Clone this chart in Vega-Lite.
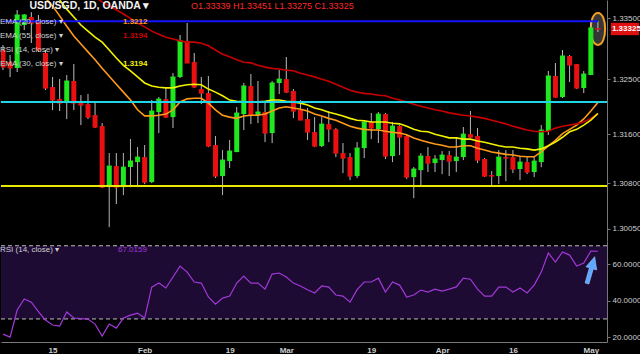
{
  "$schema": "https://vega.github.io/schema/vega-lite/v6.json",
  "background": "#000000",
  "padding": 0,
  "autosize": {"type": "pad"},
  "spacing": 0,
  "config": {
    "view": {"stroke": null},
    "font": "Liberation Sans",
    "axis": {"labelColor": "#cfcfcf", "labelFontSize": 8, "domainColor": "#777777", "tickColor": "#777777", "grid": false},
    "legend": {"symbolType": "circle", "symbolSize": 0, "symbolOpacity": 0, "symbolStrokeWidth": 0, "labelOffset": -9, "labelFontSize": 8, "rowPadding": 6, "padding": 0, "labelLimit": 300}
  },
  "data": {"values": [
    {"date":"2018-01-04","open":1.3298,"high":1.33062,"low":1.32652,"close":1.32701,"rsi":21.7},
    {"date":"2018-01-05","open":1.32783,"high":1.32898,"low":1.32537,"close":1.32685,"rsi":20.1},
    {"date":"2018-01-08","open":1.32685,"high":1.33636,"low":1.32619,"close":1.33554,"rsi":34.9},
    {"date":"2018-01-09","open":1.3339,"high":1.3357,"low":1.33308,"close":1.33554,"rsi":40.9},
    {"date":"2018-01-10","open":1.33521,"high":1.336,"low":1.33095,"close":1.33423,"rsi":39.2},
    {"date":"2018-01-11","open":1.33439,"high":1.33554,"low":1.32947,"close":1.3298,"rsi":34.0},
    {"date":"2018-01-12","open":1.32931,"high":1.3298,"low":1.32324,"close":1.32357,"ema20":1.3383,"rsi":29.4},
    {"date":"2018-01-15","open":1.32373,"high":1.32537,"low":1.31996,"close":1.3216,"ema20":1.337,"rsi":26.7},
    {"date":"2018-01-16","open":1.32176,"high":1.32504,"low":1.3198,"close":1.32111,"ema20":1.3354,"ema30":1.338,"rsi":26.1},
    {"date":"2018-01-17","open":1.32111,"high":1.3257,"low":1.31848,"close":1.32472,"ema20":1.3337,"ema30":1.3365,"rsi":33.8},
    {"date":"2018-01-18","open":1.32472,"high":1.3275,"low":1.31996,"close":1.32111,"ema20":1.3321,"ema30":1.3352,"rsi":30.5},
    {"date":"2018-01-19","open":1.32111,"high":1.32242,"low":1.3175,"close":1.32078,"ema20":1.3308,"ema30":1.3339,"rsi":30.2},
    {"date":"2018-01-22","open":1.32094,"high":1.32258,"low":1.31848,"close":1.31881,"ema20":1.3295,"ema30":1.3329,"rsi":29.9},
    {"date":"2018-01-23","open":1.31914,"high":1.32111,"low":1.31701,"close":1.31717,"ema20":1.3282,"ema30":1.3319,"ema55":1.3385,"rsi":27.2},
    {"date":"2018-01-24","open":1.31734,"high":1.31783,"low":1.30717,"close":1.30733,"ema20":1.3268,"ema30":1.3311,"ema55":1.3377,"rsi":20.7},
    {"date":"2018-01-25","open":1.30733,"high":1.31291,"low":1.30077,"close":1.31078,"ema20":1.3255,"ema30":1.3298,"ema55":1.337,"rsi":27.2},
    {"date":"2018-01-26","open":1.31078,"high":1.31291,"low":1.30456,"close":1.30733,"ema20":1.3242,"ema30":1.3285,"ema55":1.3364,"rsi":25.0},
    {"date":"2018-01-29","open":1.30733,"high":1.31291,"low":1.30602,"close":1.31061,"ema20":1.3229,"ema30":1.3273,"ema55":1.3357,"rsi":30.5},
    {"date":"2018-01-30","open":1.31061,"high":1.3152,"low":1.30733,"close":1.3116,"ema20":1.3216,"ema30":1.3264,"ema55":1.335,"rsi":32.1},
    {"date":"2018-01-31","open":1.31143,"high":1.31389,"low":1.30733,"close":1.31225,"ema20":1.32,"ema30":1.3254,"ema55":1.3342,"rsi":33.2},
    {"date":"2018-02-01","open":1.31225,"high":1.31422,"low":1.30782,"close":1.30815,"ema20":1.319,"ema30":1.3244,"ema55":1.3336,"rsi":30.5},
    {"date":"2018-02-02","open":1.30815,"high":1.3216,"low":1.30799,"close":1.3198,"ema20":1.319,"ema30":1.3239,"ema55":1.3329,"rsi":47.4},
    {"date":"2018-02-05","open":1.31963,"high":1.32209,"low":1.31619,"close":1.32176,"ema20":1.3191,"ema30":1.3237,"ema55":1.3324,"rsi":49.6},
    {"date":"2018-02-06","open":1.32176,"high":1.32373,"low":1.31865,"close":1.31881,"ema20":1.3193,"ema30":1.3236,"ema55":1.3319,"rsi":46.9},
    {"date":"2018-02-07","open":1.31881,"high":1.32603,"low":1.31701,"close":1.32537,"ema20":1.32,"ema30":1.3236,"ema55":1.3316,"rsi":52.9},
    {"date":"2018-02-08","open":1.32537,"high":1.33226,"low":1.32521,"close":1.33128,"ema20":1.3213,"ema30":1.3239,"ema55":1.3313,"rsi":58.9},
    {"date":"2018-02-09","open":1.33128,"high":1.33423,"low":1.32767,"close":1.32767,"ema20":1.3218,"ema30":1.3241,"ema55":1.3311,"rsi":55.6},
    {"date":"2018-02-12","open":1.32783,"high":1.32931,"low":1.32357,"close":1.32373,"ema20":1.3219,"ema30":1.3242,"ema55":1.3311,"rsi":50.2},
    {"date":"2018-02-13","open":1.3234,"high":1.32537,"low":1.32094,"close":1.32275,"ema20":1.3219,"ema30":1.3241,"ema55":1.3309,"rsi":49.6},
    {"date":"2018-02-14","open":1.32275,"high":1.32554,"low":1.31389,"close":1.31406,"ema20":1.3211,"ema30":1.3234,"ema55":1.3305,"rsi":42.0},
    {"date":"2018-02-15","open":1.31422,"high":1.3157,"low":1.30881,"close":1.30914,"ema20":1.32,"ema30":1.3229,"ema55":1.3298,"rsi":38.1},
    {"date":"2018-02-16","open":1.30914,"high":1.3134,"low":1.30602,"close":1.31176,"ema20":1.3191,"ema30":1.3223,"ema55":1.3291,"rsi":41.4},
    {"date":"2018-02-19","open":1.3116,"high":1.31504,"low":1.31045,"close":1.31324,"ema20":1.3188,"ema30":1.3216,"ema55":1.3287,"rsi":42.5},
    {"date":"2018-02-20","open":1.31307,"high":1.32045,"low":1.31307,"close":1.31947,"ema20":1.3186,"ema30":1.3214,"ema55":1.3282,"rsi":49.6},
    {"date":"2018-02-21","open":1.3193,"high":1.32439,"low":1.31668,"close":1.3239,"ema20":1.319,"ema30":1.3213,"ema55":1.3278,"rsi":53.4},
    {"date":"2018-02-22","open":1.3239,"high":1.32586,"low":1.31766,"close":1.31914,"ema20":1.3191,"ema30":1.3213,"ema55":1.3277,"rsi":49.6},
    {"date":"2018-02-23","open":1.31914,"high":1.32472,"low":1.31783,"close":1.31963,"ema20":1.3191,"ema30":1.3213,"ema55":1.3273,"rsi":49.6},
    {"date":"2018-02-26","open":1.31963,"high":1.32127,"low":1.31471,"close":1.31619,"ema20":1.3193,"ema30":1.3214,"ema55":1.327,"rsi":46.3},
    {"date":"2018-02-27","open":1.31619,"high":1.32472,"low":1.31455,"close":1.32439,"ema20":1.3198,"ema30":1.3216,"ema55":1.3268,"rsi":54.5},
    {"date":"2018-02-28","open":1.32439,"high":1.32652,"low":1.32258,"close":1.32504,"ema20":1.3203,"ema30":1.3216,"ema55":1.3267,"rsi":55.1},
    {"date":"2018-03-01","open":1.32504,"high":1.32865,"low":1.32275,"close":1.32291,"ema20":1.3205,"ema30":1.3214,"ema55":1.3265,"rsi":52.9},
    {"date":"2018-03-02","open":1.32308,"high":1.3234,"low":1.31865,"close":1.3198,"ema20":1.3203,"ema30":1.3213,"ema55":1.3264,"rsi":49.6},
    {"date":"2018-03-05","open":1.31996,"high":1.3216,"low":1.31832,"close":1.31832,"ema20":1.3201,"ema30":1.3211,"ema55":1.326,"rsi":48.0},
    {"date":"2018-03-06","open":1.31848,"high":1.32029,"low":1.31504,"close":1.31635,"ema20":1.3198,"ema30":1.3208,"ema55":1.3257,"rsi":46.0},
    {"date":"2018-03-07","open":1.31635,"high":1.31881,"low":1.31389,"close":1.31406,"ema20":1.3193,"ema30":1.3203,"ema55":1.3254,"rsi":44.2},
    {"date":"2018-03-08","open":1.31406,"high":1.31881,"low":1.31389,"close":1.31766,"ema20":1.319,"ema30":1.32,"ema55":1.325,"rsi":48.0},
    {"date":"2018-03-09","open":1.31766,"high":1.3198,"low":1.31471,"close":1.31684,"ema20":1.3186,"ema30":1.3196,"ema55":1.3247,"rsi":47.4},
    {"date":"2018-03-12","open":1.31684,"high":1.317,"low":1.31225,"close":1.31291,"ema20":1.3183,"ema30":1.3193,"ema55":1.3242,"rsi":43.1},
    {"date":"2018-03-13","open":1.31291,"high":1.31455,"low":1.30963,"close":1.31209,"ema20":1.3178,"ema30":1.319,"ema55":1.3237,"rsi":42.5},
    {"date":"2018-03-14","open":1.31225,"high":1.31291,"low":1.30848,"close":1.30914,"ema20":1.3173,"ema30":1.3186,"ema55":1.3232,"rsi":39.2},
    {"date":"2018-03-15","open":1.30914,"high":1.31471,"low":1.30881,"close":1.31373,"ema20":1.317,"ema30":1.3183,"ema55":1.3229,"rsi":46.0},
    {"date":"2018-03-16","open":1.31373,"high":1.31832,"low":1.31209,"close":1.31799,"ema20":1.3168,"ema30":1.3182,"ema55":1.3227,"rsi":50.2},
    {"date":"2018-03-19","open":1.31799,"high":1.31947,"low":1.3152,"close":1.31701,"ema20":1.3167,"ema30":1.318,"ema55":1.3226,"rsi":50.2},
    {"date":"2018-03-20","open":1.31684,"high":1.31963,"low":1.31455,"close":1.3193,"ema20":1.3167,"ema30":1.318,"ema55":1.3224,"rsi":52.3},
    {"date":"2018-03-21","open":1.3193,"high":1.31947,"low":1.31193,"close":1.31242,"ema20":1.3165,"ema30":1.318,"ema55":1.3223,"rsi":44.7},
    {"date":"2018-03-22","open":1.31242,"high":1.31799,"low":1.31143,"close":1.31734,"ema20":1.3163,"ema30":1.3178,"ema55":1.3219,"rsi":50.2},
    {"date":"2018-03-23","open":1.31734,"high":1.3175,"low":1.31258,"close":1.31553,"ema20":1.3162,"ema30":1.3177,"ema55":1.3216,"rsi":48.5},
    {"date":"2018-03-26","open":1.3157,"high":1.31586,"low":1.30864,"close":1.30897,"ema20":1.3159,"ema30":1.3173,"ema55":1.3213,"rsi":42.0},
    {"date":"2018-03-27","open":1.30897,"high":1.31061,"low":1.30553,"close":1.31029,"ema20":1.3154,"ema30":1.3168,"ema55":1.3209,"rsi":43.1},
    {"date":"2018-03-28","open":1.31012,"high":1.31291,"low":1.3075,"close":1.31242,"ema20":1.315,"ema30":1.3165,"ema55":1.3206,"rsi":45.8},
    {"date":"2018-03-29","open":1.31242,"high":1.31389,"low":1.3098,"close":1.31127,"ema20":1.3147,"ema30":1.3164,"ema55":1.3203,"rsi":44.7},
    {"date":"2018-03-30","open":1.31127,"high":1.31258,"low":1.3098,"close":1.31193,"ema20":1.3144,"ema30":1.316,"ema55":1.32,"rsi":46.3},
    {"date":"2018-04-02","open":1.31176,"high":1.31324,"low":1.30946,"close":1.31258,"ema20":1.3142,"ema30":1.3157,"ema55":1.3198,"rsi":45.2},
    {"date":"2018-04-03","open":1.31258,"high":1.31324,"low":1.30914,"close":1.3116,"ema20":1.3139,"ema30":1.3154,"ema55":1.3195,"rsi":46.3},
    {"date":"2018-04-04","open":1.3116,"high":1.31553,"low":1.3098,"close":1.31225,"ema20":1.3139,"ema30":1.3154,"ema55":1.3193,"rsi":47.5},
    {"date":"2018-04-05","open":1.31225,"high":1.31717,"low":1.31176,"close":1.31602,"ema20":1.3141,"ema30":1.3152,"ema55":1.3191,"rsi":52.3},
    {"date":"2018-04-06","open":1.31602,"high":1.3198,"low":1.31537,"close":1.31553,"ema20":1.3141,"ema30":1.3152,"ema55":1.319,"rsi":51.7},
    {"date":"2018-04-09","open":1.3157,"high":1.31701,"low":1.31127,"close":1.31176,"ema20":1.3137,"ema30":1.3149,"ema55":1.3188,"rsi":46.3},
    {"date":"2018-04-10","open":1.31193,"high":1.31209,"low":1.30897,"close":1.30914,"ema20":1.3134,"ema30":1.3147,"ema55":1.3186,"rsi":42.5},
    {"date":"2018-04-11","open":1.3093,"high":1.30996,"low":1.30766,"close":1.30914,"ema20":1.3131,"ema30":1.3144,"ema55":1.3183,"rsi":42.5},
    {"date":"2018-04-12","open":1.30914,"high":1.3134,"low":1.30782,"close":1.31225,"ema20":1.3129,"ema30":1.3141,"ema55":1.318,"rsi":47.4},
    {"date":"2018-04-13","open":1.31225,"high":1.3134,"low":1.30832,"close":1.31209,"ema20":1.3127,"ema30":1.3139,"ema55":1.3177,"rsi":47.4},
    {"date":"2018-04-16","open":1.31225,"high":1.3134,"low":1.30963,"close":1.31029,"ema20":1.3126,"ema30":1.3139,"ema55":1.3173,"rsi":44.7},
    {"date":"2018-04-17","open":1.31029,"high":1.31225,"low":1.30848,"close":1.31143,"ema20":1.3124,"ema30":1.3137,"ema55":1.317,"rsi":46.9},
    {"date":"2018-04-18","open":1.31143,"high":1.31225,"low":1.30946,"close":1.3098,"ema20":1.3123,"ema30":1.3136,"ema55":1.3167,"rsi":44.2},
    {"date":"2018-04-19","open":1.3098,"high":1.31225,"low":1.30897,"close":1.3116,"ema20":1.3123,"ema30":1.3134,"ema55":1.3165,"rsi":48.5},
    {"date":"2018-04-20","open":1.31143,"high":1.3175,"low":1.31061,"close":1.31668,"ema20":1.3131,"ema30":1.3136,"ema55":1.3164,"rsi":55.6},
    {"date":"2018-04-23","open":1.31652,"high":1.32636,"low":1.31586,"close":1.32554,"ema20":1.3141,"ema30":1.3141,"ema55":1.3165,"rsi":66.0},
    {"date":"2018-04-24","open":1.32554,"high":1.32767,"low":1.32193,"close":1.32209,"ema20":1.315,"ema30":1.3147,"ema55":1.317,"rsi":61.1},
    {"date":"2018-04-25","open":1.32209,"high":1.3298,"low":1.32193,"close":1.32882,"ema20":1.3161,"ema30":1.3155,"ema55":1.3173,"rsi":66.6},
    {"date":"2018-04-26","open":1.32882,"high":1.32898,"low":1.32455,"close":1.32734,"ema20":1.3168,"ema30":1.3164,"ema55":1.3175,"rsi":64.9},
    {"date":"2018-04-27","open":1.3275,"high":1.3275,"low":1.3234,"close":1.32357,"ema20":1.3175,"ema30":1.3168,"ema55":1.3177,"rsi":58.9},
    {"date":"2018-04-30","open":1.32357,"high":1.32636,"low":1.32275,"close":1.32586,"ema20":1.3185,"ema30":1.3175,"ema55":1.318,"rsi":60.5},
    {"date":"2018-05-01","open":1.3257,"high":1.33439,"low":1.3257,"close":1.33341,"ema20":1.3198,"ema30":1.3183,"ema55":1.3186,"rsi":67.1},
    {"date":"2018-05-02","open":1.33339,"high":1.33451,"low":1.33275,"close":1.33325,"ema20":1.3212,"ema30":1.3194,"ema55":1.3194,"rsi":67.0}
  ]},
  "resolve": {
    "scale": {"color": "independent", "opacity": "independent", "strokeDash": "independent", "strokeWidth": "independent"},
    "legend": {"color": "independent", "opacity": "independent", "strokeDash": "independent", "strokeWidth": "independent"}
  },
  "vconcat": [
    {
      "width": 606,
      "height": 241,
      "layer": [
        {
          "transform": [{"filter": "datum.date == '2018-05-02'"}],
          "mark": {"type": "point", "shape": "M0,-1C0.6,-1 0.6,1 0,1C-0.6,1 -0.6,-1 0,-1Z", "size": 1024, "filled": true, "fill": "#3c3c3c", "fillOpacity": 0.9, "stroke": "#f0a020", "strokeWidth": 2, "strokeOpacity": 1, "opacity": 1},
          "encoding": {
            "x": {"field": "date", "type": "ordinal", "axis": null},
            "y": {"field": "close", "type": "quantitative", "title": null}
          }
        },
        {
          "mark": {"type": "rule", "color": "#c4c4c4", "strokeWidth": 1, "clip": true},
          "encoding": {
            "x": {"field": "date", "type": "ordinal", "title": null,
              "scale": {"type": "point", "padding": 0.282, "domain": ["2018-01-04","2018-01-05","2018-01-08","2018-01-09","2018-01-10","2018-01-11","2018-01-12","2018-01-15","2018-01-16","2018-01-17","2018-01-18","2018-01-19","2018-01-22","2018-01-23","2018-01-24","2018-01-25","2018-01-26","2018-01-29","2018-01-30","2018-01-31","2018-02-01","2018-02-02","2018-02-05","2018-02-06","2018-02-07","2018-02-08","2018-02-09","2018-02-12","2018-02-13","2018-02-14","2018-02-15","2018-02-16","2018-02-19","2018-02-20","2018-02-21","2018-02-22","2018-02-23","2018-02-26","2018-02-27","2018-02-28","2018-03-01","2018-03-02","2018-03-05","2018-03-06","2018-03-07","2018-03-08","2018-03-09","2018-03-12","2018-03-13","2018-03-14","2018-03-15","2018-03-16","2018-03-19","2018-03-20","2018-03-21","2018-03-22","2018-03-23","2018-03-26","2018-03-27","2018-03-28","2018-03-29","2018-03-30","2018-04-02","2018-04-03","2018-04-04","2018-04-05","2018-04-06","2018-04-09","2018-04-10","2018-04-11","2018-04-12","2018-04-13","2018-04-16","2018-04-17","2018-04-18","2018-04-19","2018-04-20","2018-04-23","2018-04-24","2018-04-25","2018-04-26","2018-04-27","2018-04-30","2018-05-01","2018-05-02","2018-05-03"]},
              "axis": {"labels": false, "ticks": false, "domain": true, "domainColor": "#6a6a6a", "title": null}},
            "y": {"field": "low", "type": "quantitative", "title": null,
              "scale": {"domain": [1.2985, 1.338], "zero": false, "nice": false},
              "axis": {"orient": "right", "values": [1.3005, 1.304, 1.308, 1.312, 1.316, 1.32, 1.325, 1.33, 1.335], "format": ".5f", "tickSize": 3, "labelPadding": 2, "labelOverlap": false, "title": null}},
            "y2": {"field": "high"},
            "strokeDash": {"datum": "hdr", "type": "nominal",
              "scale": {"domain": ["hdr"], "range": [[1, 0]]},
              "legend": {"orient": "none", "legendX": 27, "legendY": 1, "title": null, "labelFontSize": 10.5, "labelFontWeight": "bold", "labelColor": "#f2f2f2",
                "labelExpr": "'USD/SGD, 1D, OANDA ▾'"}}
          }
        },
        {
          "mark": {"type": "bar", "width": 5, "clip": true},
          "encoding": {
            "x": {"field": "date", "type": "ordinal"},
            "y": {"field": "open", "type": "quantitative", "title": null},
            "y2": {"field": "close"},
            "color": {"condition": {"test": "datum.close >= datum.open", "value": "#1fe81f"}, "value": "#ea1010"}
          }
        },
        {
          "mark": {"type": "tick", "orient": "horizontal", "size": 5, "thickness": 1, "clip": true, "opacity": 1},
          "encoding": {
            "x": {"field": "date", "type": "ordinal"},
            "y": {"field": "close", "type": "quantitative", "title": null},
            "color": {"condition": {"test": "datum.close >= datum.open", "value": "#1fe81f"}, "value": "#ea1010"}
          }
        },
        {
          "transform": [{"fold": ["ema20", "ema55", "ema30"], "as": ["series", "value"]}],
          "mark": {"type": "line", "strokeWidth": 1.6, "clip": true},
          "encoding": {
            "x": {"field": "date", "type": "ordinal"},
            "y": {"field": "value", "type": "quantitative", "title": null},
            "color": {"field": "series", "type": "nominal",
              "scale": {"domain": ["ema20", "ema55", "rsi14", "ema30"], "range": ["#ff9a1a", "#c80000", "#9c2ad0", "#f2f200"]},
              "legend": {"orient": "none", "legendX": 0, "legendY": 18, "title": null, "labelColor": "#d0d0d0",
                "labelExpr": "datum.value == 'ema20' ? 'EMA (20, close) ▾' : datum.value == 'ema55' ? 'EMA (55, close) ▾' : datum.value == 'ema30' ? 'EMA (30, close) ▾' : 'RSI (14, close) ▾'"}},
            "opacity": {"field": "series", "type": "nominal",
              "scale": {"type": "ordinal", "domain": ["ema20", "ema30", "ema55", "rsi14"], "range": [1, 1, 1, 1]},
              "legend": {"orient": "none", "legendX": 123, "legendY": 18, "title": null, "values": ["ema20", "ema55", "rsi14", "ema30"], "labelFontWeight": "bold",
                "labelExpr": "datum.value == 'ema20' ? '1.3212' : datum.value == 'rsi14' ? '' : '1.3194'",
                "labelColor": {"expr": "datum.value == 'ema20' ? '#ff9a1a' : datum.value == 'ema55' ? '#c80000' : '#f2f200'"}}}
          }
        },
        {
          "data": {"values": [{"price": 1.33451, "from": "2018-01-04", "to": "2018-05-02"}]},
          "mark": {"type": "rule", "color": "#1414ff"},
          "encoding": {
            "x": {"field": "from", "type": "ordinal"},
            "x2": {"field": "to"},
            "y": {"field": "price", "type": "quantitative", "title": null},
            "strokeWidth": {"datum": "ohlc", "type": "nominal",
              "scale": {"type": "ordinal", "domain": ["ohlc"], "range": [2]},
              "legend": {"orient": "none", "legendX": 190, "legendY": 1.5, "title": null, "labelFontSize": 9, "labelColor": "#ff2a2a", "labelLimit": 400,
                "labelExpr": "'O1.33339  H1.33451  L1.33275  C1.33325'"}}
          }
        },
        {
          "data": {"values": [{"price": 1.3213}]},
          "mark": {"type": "rule", "color": "#1ed6e6", "strokeWidth": 2},
          "encoding": {"y": {"field": "price", "type": "quantitative", "title": null}}
        },
        {
          "data": {"values": [{"price": 1.3075}]},
          "mark": {"type": "rule", "color": "#e8e800", "strokeWidth": 2},
          "encoding": {"y": {"field": "price", "type": "quantitative", "title": null}}
        },
        {
          "transform": [{"filter": "datum.date == '2018-05-02'"}],
          "mark": {"type": "point", "shape": "M1.3,-0.62L4.1,-0.62L4.1,0.62L1.3,0.62Z", "size": 400, "filled": true, "fill": "#e01010", "opacity": 1, "clip": false},
          "encoding": {
            "x": {"field": "date", "type": "ordinal"},
            "y": {"field": "close", "type": "quantitative", "title": null}
          }
        },
        {
          "transform": [{"filter": "datum.date == '2018-05-02'"}],
          "mark": {"type": "text", "align": "left", "baseline": "middle", "dx": 14, "fontSize": 8, "fontWeight": "bold", "color": "#ffffff", "clip": false},
          "encoding": {
            "x": {"field": "date", "type": "ordinal"},
            "y": {"field": "close", "type": "quantitative", "title": null},
            "text": {"field": "close", "type": "quantitative", "format": ".5f"}
          }
        }
      ]
    },
    {
      "width": 606,
      "height": 101,
      "layer": [
        {
          "data": {"values": [{"lower": 30, "upper": 70}]},
          "mark": {"type": "rect", "color": "#1e0b34"},
          "encoding": {
            "y": {"field": "lower", "type": "quantitative", "title": null,
              "scale": {"domain": [17.4, 72.6], "zero": false, "nice": false},
              "axis": {"orient": "right", "values": [20, 40, 60], "format": ".4f", "tickSize": 3, "labelPadding": 2, "title": null}},
            "y2": {"field": "upper"}
          }
        },
        {
          "data": {"values": [{"level": 70}, {"level": 30}]},
          "mark": {"type": "rule", "color": "#bdbdbd", "strokeWidth": 1, "strokeDash": [4, 3]},
          "encoding": {"y": {"field": "level", "type": "quantitative", "title": null}}
        },
        {
          "mark": {"type": "line", "strokeWidth": 1.2},
          "encoding": {
            "x": {"field": "date", "type": "ordinal", "title": null,
              "scale": {"type": "point", "padding": 0.282, "domain": ["2018-01-04","2018-01-05","2018-01-08","2018-01-09","2018-01-10","2018-01-11","2018-01-12","2018-01-15","2018-01-16","2018-01-17","2018-01-18","2018-01-19","2018-01-22","2018-01-23","2018-01-24","2018-01-25","2018-01-26","2018-01-29","2018-01-30","2018-01-31","2018-02-01","2018-02-02","2018-02-05","2018-02-06","2018-02-07","2018-02-08","2018-02-09","2018-02-12","2018-02-13","2018-02-14","2018-02-15","2018-02-16","2018-02-19","2018-02-20","2018-02-21","2018-02-22","2018-02-23","2018-02-26","2018-02-27","2018-02-28","2018-03-01","2018-03-02","2018-03-05","2018-03-06","2018-03-07","2018-03-08","2018-03-09","2018-03-12","2018-03-13","2018-03-14","2018-03-15","2018-03-16","2018-03-19","2018-03-20","2018-03-21","2018-03-22","2018-03-23","2018-03-26","2018-03-27","2018-03-28","2018-03-29","2018-03-30","2018-04-02","2018-04-03","2018-04-04","2018-04-05","2018-04-06","2018-04-09","2018-04-10","2018-04-11","2018-04-12","2018-04-13","2018-04-16","2018-04-17","2018-04-18","2018-04-19","2018-04-20","2018-04-23","2018-04-24","2018-04-25","2018-04-26","2018-04-27","2018-04-30","2018-05-01","2018-05-02","2018-05-03"]},
              "axis": {"values": ["2018-01-15","2018-02-01","2018-02-19","2018-03-01","2018-03-19","2018-04-02","2018-04-16","2018-05-01"],
                "labelExpr": "datum.value == '2018-01-15' ? '15' : datum.value == '2018-02-01' ? 'Feb' : datum.value == '2018-02-19' ? '19' : datum.value == '2018-03-01' ? 'Mar' : datum.value == '2018-03-19' ? '19' : datum.value == '2018-04-02' ? 'Apr' : datum.value == '2018-04-16' ? '16' : 'May'",
                "labelAngle": 0, "ticks": false, "labelPadding": 4, "labelFontWeight": "bold", "domainColor": "#7a7a7a", "title": null}},
            "y": {"field": "rsi", "type": "quantitative", "title": null},
            "color": {"datum": "rsi14",
              "scale": {"domain": ["rsi14"], "range": ["#a238d8"]},
              "legend": {"orient": "none", "legendX": 118, "legendY": 5, "title": null, "labelExpr": "'67.0159'", "labelColor": "#a238d8"}},
            "opacity": {"datum": "rsiname", "type": "nominal",
              "scale": {"type": "ordinal", "domain": ["rsiname"], "range": [1]},
              "legend": {"orient": "none", "legendX": 0, "legendY": 5, "title": null, "labelExpr": "'RSI (14, close) ▾'", "labelColor": "#d0d0d0"}}
          }
        },
        {
          "transform": [{"filter": "datum.date == '2018-05-01'"}],
          "mark": {"type": "point", "shape": "arrow", "size": 784, "angle": 16, "filled": true, "fill": "#5fa8ff", "stroke": "#9fd0ff", "strokeWidth": 0.5, "opacity": 1},
          "encoding": {
            "x": {"field": "date", "type": "ordinal"},
            "y": {"datum": 56.7, "type": "quantitative"}
          }
        }
      ]
    }
  ]
}
